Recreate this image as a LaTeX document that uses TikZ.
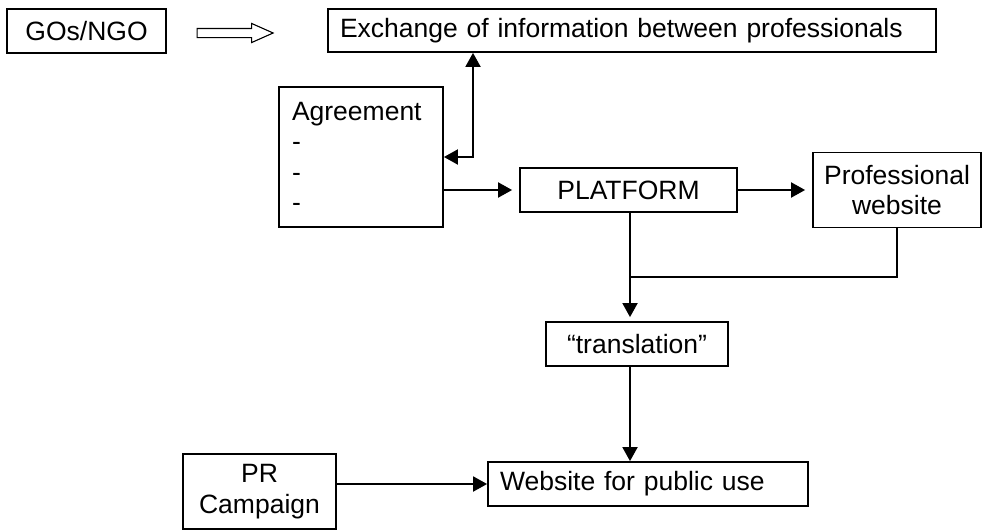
\documentclass[tikz,border=0pt]{standalone}
\usepackage{fontspec}
\setmainfont{Liberation Sans}
\usetikzlibrary{arrows.meta,shapes.arrows}

\begin{document}
\begin{tikzpicture}[x=1pt,y=-1pt,
    box/.style={draw,line width=1.8pt,inner sep=0pt,font=\fontsize{26.5}{30.5}\selectfont},
    >={Triangle[length=14pt,width=15pt]},
    arr/.style={line width=1.9pt,->}]
      \useasboundingbox (0,0) rectangle (983,530);
      \node[box,minimum width=159pt,minimum height=44pt](gos) at (86.5,31){GOs/NGO\hspace{10pt}};
      \node[box,minimum width=608pt,minimum height=43pt,text width=584pt,align=left](exch) at (632,30.5){Exchange of information between professionals};
      \node[draw,single arrow,line width=1.1pt,minimum height=76pt,minimum width=18pt,inner sep=4pt,
        single arrow head extend=5pt,single arrow tip angle=48](hollow) at (230,33){};
      \node[box,minimum width=164pt,minimum height=140pt,text width=138pt,align=left](agree) at (361,157){Agreement\\-\\-\\-};
      \node[box,minimum width=217pt,minimum height=44pt](platform) at (628.5,190){PLATFORM};
      \node[box,minimum width=168pt,minimum height=75pt,align=center](prof) at (897,190){Professional\\website};
      \node[box,minimum width=182pt,minimum height=44pt](trans) at (637,344){“translation”};
      \node[box,minimum width=320pt,minimum height=44pt,text width=296pt,align=left](web) at (648,484){Website for public use};
      \node[box,minimum width=153pt,minimum height=75pt,align=center](pr) at (259.5,491.5){PR\\Campaign};
      \coordinate (kink) at (473,157);
      \coordinate (joint) at (630,277);
      \draw[line width=1.9pt,<->](agree.east)--(kink)--(kink |- exch.south);
      \draw[arr,shorten >=7pt](agree.east |- platform.west)--(platform.west);
      \draw[arr,shorten >=7pt](platform)--(prof);
      \draw[arr,shorten >=4pt](platform.south -| joint)--(joint)--(joint |- trans.north);
      \draw[line width=1.9pt](prof.south)|-(joint);
      \draw[arr](trans.south -| joint)--(web.north -| joint);
      \draw[arr](pr.east |- web.west)--(web.west);
    \end{tikzpicture}
\end{document}
